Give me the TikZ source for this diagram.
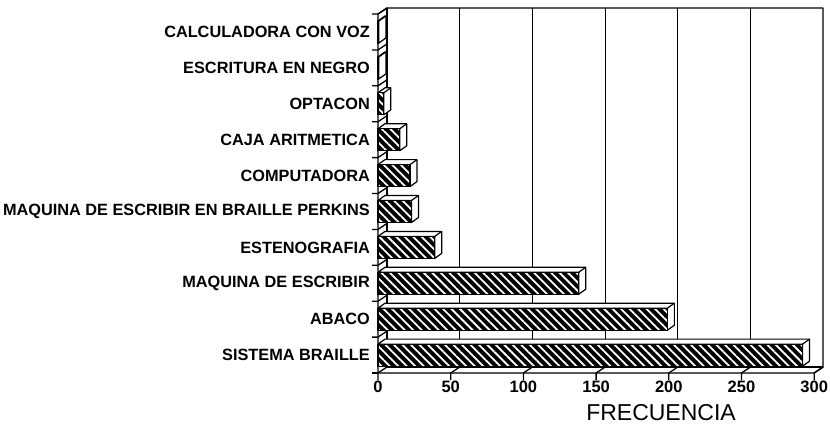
\documentclass[tikz,border=0pt]{standalone}
\usepackage{fontspec}
\setmainfont{Liberation Sans}
\usetikzlibrary{patterns.meta}

\begin{document}
\begin{tikzpicture}[%
  x=1pt, y=-1pt,
  wall/.style={line width=1.3pt, line join=round},
  grid line/.style={line width=1.2pt},
  bar front/.style={fill=black, postaction={pattern={Lines[angle=-45,distance=6pt,line width=1.8pt]}, pattern color=white}},
  bar side/.style={draw, line width=1.2pt, fill=white, line join=round},
  cat label/.style={anchor=east, inner sep=0pt, font=\fontsize{16.3}{19}\selectfont\bfseries},
  tick label/.style={anchor=north, inner sep=0pt, font=\fontsize{16.5}{19}\selectfont\bfseries}]
  \useasboundingbox (0,0) rectangle (830,426);
  \draw[wall] (378,14) -- (387,8) -- (823,8) -- (823,367) -- (814,373) -- (378,373) -- cycle;
  \draw[wall] (387,8) -- (387,367) -- (823,367);
  \foreach \k in {1,...,5}
    \draw[grid line] (387+72.7*\k,8) -- (387+72.7*\k,367);
  \foreach \k in {0,...,6} {
    \pgfmathtruncatemacro\n{50*\k}
    \draw[wall] (378+72.7*\k,380) -- (378+72.7*\k,373) -- (387+72.7*\k,367);
    \node[tick label] (t\k) at (378+72.7*\k,381) {\n};
  }
  \draw[wall] (372,373) -- (378,373);
  \foreach \v/\name [count=\i from 0] in {0.6/CALCULADORA CON VOZ, 0.6/ESCRITURA EN NEGRO,
      4/OPTACON, 15/CAJA ARITMETICA, 22/COMPUTADORA, 23/MAQUINA DE ESCRIBIR EN BRAILLE PERKINS,
      39/ESTENOGRAFIA, 138/MAQUINA DE ESCRIBIR, 199/ABACO, 292/SISTEMA BRAILLE} {
    \pgfmathsetmacro\yt{14+35.9*\i}
    \pgfmathsetmacro\xr{378+1.454*\v}
    \draw[wall] (372,\yt) -- (378,\yt) -- (387,\yt-6);
    \node[cat label] (lab\i) at (370,\yt+18) {\name};
    \draw[bar side] (378,\yt+7) -- (385,\yt+2) -- (\xr+7,\yt+2) -- (\xr+7,\yt+24)
      -- (\xr,\yt+29) -- (\xr,\yt+7) -- cycle;
    \draw[bar side] (\xr,\yt+7) -- (\xr+7,\yt+2);
    \fill[bar front] (378,\yt+7) rectangle (\xr,\yt+29);
    \draw[line width=1.2pt] (378,\yt+7) rectangle (\xr,\yt+29);
  }
  \node[font=\fontsize{23}{26}\selectfont] (axis) at (661,413) {FRECUENCIA};
\end{tikzpicture}
\end{document}
